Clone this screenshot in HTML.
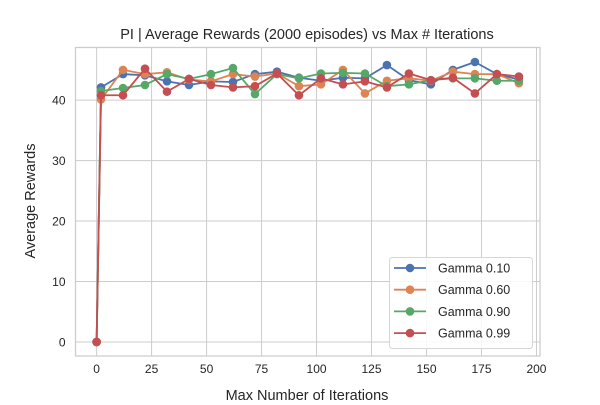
<!DOCTYPE html>
<html><head><meta charset="utf-8"><style>
body{margin:0;background:#fff;}
svg text{font-family:"Liberation Sans",Arial,sans-serif;fill:#262626;}
</style></head><body>
<svg id="chart" width="600" height="400" viewBox="0 0 600 400">
<rect width="600" height="400" fill="#fff"/>
<g id="grid"></g><g id="axes"></g><g id="series"></g>
<text x="307" y="39" font-size="14.5" text-anchor="middle">PI | Average Rewards (2000 episodes) vs Max # Iterations</text>
<text x="307" y="400" font-size="14.5" text-anchor="middle">Max Number of Iterations</text>
<text x="0" y="0" font-size="14.5" text-anchor="middle" transform="translate(35,201) rotate(-90)">Average Rewards</text>
<g id="legend"></g>
</svg>
<script>
const iters=[0,2,12,22,32,42,52,62,72,82,92,102,112,122,132,142,152,162,172,182,192];
const gamma010=[0,42.1,44.3,44.1,43.1,42.5,43.1,43.0,44.3,44.7,43.7,43.2,43.7,43.6,45.8,43.3,42.6,45.0,46.3,44.3,43.4];
const gamma060=[0,40.1,45.0,44.3,44.6,43.4,43.1,44.3,43.9,44.4,42.3,42.6,45.0,41.1,43.2,43.6,43.2,44.7,44.3,44.3,42.8];
const gamma090=[0,41.5,42.0,42.5,44.3,43.5,44.3,45.3,41.0,44.3,43.6,44.4,44.5,44.4,42.3,42.6,43.3,43.6,43.6,43.2,43.2];
const gamma099=[0,40.8,40.8,45.2,41.4,43.5,42.5,42.1,42.3,44.4,40.8,43.6,42.6,43.1,42.1,44.4,43.3,43.7,41.1,44.3,43.9];
const seriesNames=["Gamma 0.10","Gamma 0.60","Gamma 0.90","Gamma 0.99"];
const xTicks=[0,25,50,75,100,125,150,175,200];
const yTicks=[0,10,20,30,40];
const colors=["#4c72b0","#dd8452","#55a868","#c44e52"];
const NS="http://www.w3.org/2000/svg";
const L=75.5,R=540,T=47.5,B=356;
const xMin=-9.6,xMax=201.6,yMin=-2.32,yMax=48.7;
const sx=v=>L+(v-xMin)/(xMax-xMin)*(R-L);
const sy=v=>B-(v-yMin)/(yMax-yMin)*(B-T);
function mk(tag,attrs,parent){const e=document.createElementNS(NS,tag);for(const k in attrs)e.setAttribute(k,attrs[k]);parent.appendChild(e);return e;}
const grid=document.getElementById('grid'),axes=document.getElementById('axes'),ser=document.getElementById('series'),leg=document.getElementById('legend');
xTicks.forEach(t=>{const l=mk('line',{x1:sx(t),x2:sx(t),y1:T,y2:B,stroke:'#cccccc','stroke-width':1},grid);


const tx=mk('text',{x:sx(t),y:B+17,'font-size':12,'text-anchor':'middle'},axes);tx.textContent=t;

});
yTicks.forEach(t=>{const l=mk('line',{x1:L,x2:R,y1:sy(t),y2:sy(t),stroke:'#cccccc','stroke-width':1},grid);


const tx=mk('text',{x:L-10,y:sy(t)+4.5,'font-size':12,'text-anchor':'end'},axes);tx.textContent=t;

});
const fr=mk('rect',{x:L,y:T,width:R-L,height:B-T,fill:'none',stroke:'#cccccc','stroke-width':1.25},axes);


[gamma010,gamma060,gamma090,gamma099].forEach((vals,i)=>{
const g=mk('g',{},ser);


const pts=vals.map((v,j)=>sx(iters[j])+','+sy(v)).join(' ');
const pl=mk('polyline',{points:pts,fill:'none',stroke:colors[i],'stroke-width':1.8},g);


vals.forEach((v,j)=>{const c=mk('circle',{cx:sx(iters[j]),cy:sy(v),r:4.3,fill:colors[i]},g);

});
});
const lb=mk('rect',{x:389.5,y:257.5,width:143,height:91,rx:3,fill:'#fff','fill-opacity':0.85,stroke:'#d6d6d6','stroke-width':1},leg);


seriesNames.forEach((n,i)=>{const y=268+i*21.7;
const g=mk('g',{},leg);


mk('line',{x1:394,x2:426,y1:y,y2:y,stroke:colors[i],'stroke-width':1.8},g);
mk('circle',{cx:410,cy:y,r:4.3,fill:colors[i]},g);
const t=mk('text',{x:438,y:y+4.5,'font-size':12.5},g);t.textContent=n;});
</script>
</body></html>
